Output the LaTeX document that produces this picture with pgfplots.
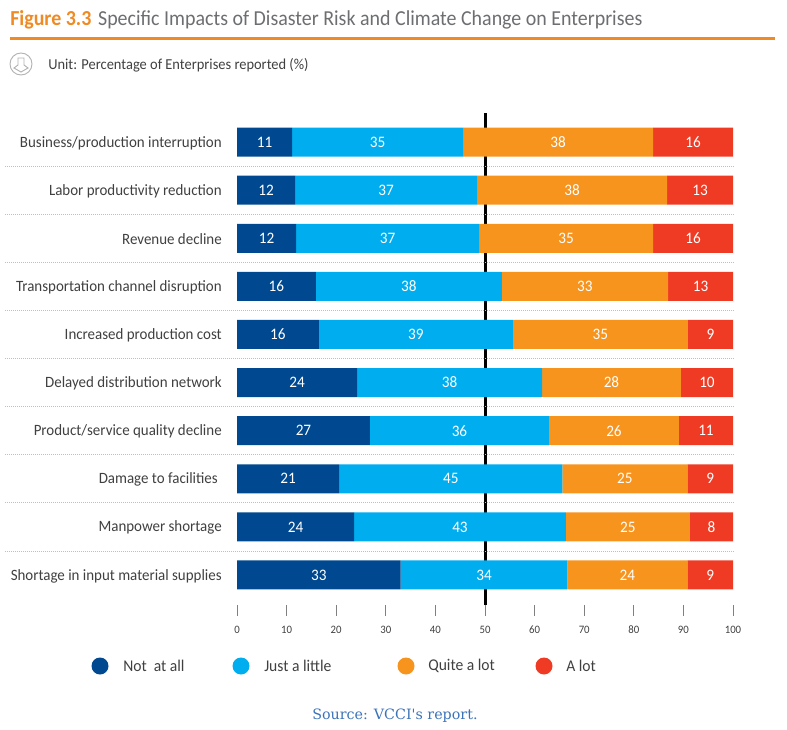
\documentclass[border=0pt]{standalone}
\usepackage{pgfplots}
\usepackage{pgfplotstable}
\usepackage{fontspec}
\pgfplotsset{compat=1.18}
\setmainfont[FakeStretch=0.95]{Carlito}
\newfontfamily\headfont[FakeStretch=0.935]{Carlito}
\newfontfamily\srcfont{DejaVu Serif}

\definecolor{notatall}{HTML}{004990}
\definecolor{little}{HTML}{00AEEF}
\definecolor{quite}{HTML}{F7941E}
\definecolor{alot}{HTML}{EF3B24}
\definecolor{rule}{HTML}{F08A24}
\definecolor{txt}{HTML}{404040}
\definecolor{titlegray}{HTML}{6D6E71}
\definecolor{srcblue}{HTML}{3B73B9}

% boundaries, la..ld are the printed numbers
\pgfplotstableread{
y a    la b    lb c    lc d    ld
0 11.1 11 34.5 35 38.3 38 16.1 16
1 11.7 12 36.7 37 38.3 38 13.3 13
2 11.9 12 36.9 37 35.1 35 16.1 16
3 15.9 16 37.5 38 33.5 33 13.1 13
4 16.5 16 39.1 39 35.3 35 9.1  9
5 24.2 24 37.3 38 28.0 28 10.5 10
6 26.8 27 36.1 36 26.2 26 10.9 11
7 20.6 21 45.0 45 25.2 25 9.2  9
8 23.6 24 42.7 43 25.0 25 8.7  8
9 33.0 33 33.6 34 24.2 24 9.2  9
}\impacts

\pgfplotsset{
  barlabels/.style={
    nodes near coords,
    point meta=explicit symbolic,
    every node near coord/.style={anchor=center, text=white, font=\fontsize{12}{12}\selectfont, inner sep=0pt},
  },
}

\begin{document}
\begin{tikzpicture}
\useasboundingbox (0,0) rectangle (590.25pt,-546.75pt);

% ticks and the 50 line, underneath the bars
\begin{axis}[
    at={(177.75pt,-84.75pt)}, anchor=north west,
    scale only axis, width=372pt, height=369pt,
    xmin=0, xmax=100, ymin=0, ymax=1,
    axis x line*=bottom, hide y axis,
    x axis line style={draw=none},
    xtick={0,10,...,100},
    tick align=outside,
    major tick length=8.25pt,
    tick style={draw=gray, line width=0.7pt},
    xticklabel style={font=\fontsize{8.5}{10}\selectfont, text=txt, yshift=-4pt},
    /pgf/number format/assume math mode=true,
]
\addplot[black, line width=2.25pt, forget plot] coordinates {(50,0) (50,1)};
\end{axis}

\begin{axis}[
    at={(177.75pt,-88.5pt)}, anchor=north west,
    scale only axis, width=372pt, height=360.75pt,
    xbar stacked, bar width=21.75pt,
    xmin=0, xmax=100, ymin=-0.5, ymax=9.5, y dir=reverse,
    clip=false,
    axis lines=none,
    ytick={0,...,9},
    hide x axis,
]
\pgfplotsinvokeforeach{0.5,1.5,...,8.5}{
  \draw[densely dotted, draw=black!25, line width=0.5pt] (axis cs:-46.8,#1) -- (axis cs:100,#1);
}
\addplot[fill=notatall, draw=none, barlabels] table[x=a, y=y, meta=la] {\impacts};
\addplot[fill=little, draw=none, barlabels] table[x=b, y=y, meta=lb] {\impacts};
\addplot[fill=quite, draw=none, barlabels] table[x=c, y=y, meta=lc] {\impacts};
\addplot[fill=alot, draw=none, barlabels] table[x=d, y=y, meta=ld] {\impacts};
\end{axis}

\begin{scope}[x=0.75pt, y=-0.75pt]
% row names
\foreach \r/\name in {
  0/Business\slash production interruption,
  1/Labor productivity reduction,
  2/Revenue decline,
  3/Transportation channel disruption,
  4/Increased production cost,
  5/Delayed distribution network,
  6/Product\slash service quality decline,
  8/Manpower shortage,
  9/Shortage in input material supplies}{
  \node[anchor=east, inner sep=0pt, text=txt, font=\fontsize{11.8}{14}\selectfont]
    at (222, {143+48.1*\r}) {\name};
}
\node[anchor=east, inner sep=0pt, text=txt, font=\fontsize{11.8}{14}\selectfont] at (218, {143+48.1*7}) {Damage to facilities};

% heading
\node[anchor=base west, inner sep=0pt, font=\headfont\fontsize{16}{18}\selectfont] at (10,25)
  {\textcolor{rule}{\textbf{Figure 3.3}}\hspace{5pt}\textcolor{titlegray}{Specific Impacts of Disaster Risk and Climate Change on Enterprises}};
\draw[rule, line width=2.25pt] (10,38) -- (775,38);

% unit line with its icon
\draw[black!30, line width=0.7pt] (21,64) circle (11);
\draw[black!30, line width=0.7pt] (14,68) -- (21,72) -- (28,68) -- (24,65) -- (24,58) -- (18,58) -- (18,65) -- cycle;
\node[anchor=base west, inner sep=0pt, text=txt, font=\fontsize{11.4}{13}\selectfont] at (48,69)
  {Unit: Percentage of Enterprises reported (\%)};

% legend
\foreach \cx/\tx/\col/\lab in {
  100/123/notatall/Not\ \ at all,
  241/264/little/Just a little,
  406/428/quite/Quite a lot,
  544/566/alot/A lot}{
  \fill[\col] (\cx,666) circle (8.5);
  \node[anchor=west, inner sep=0pt, text=txt, font=\fontsize{12.3}{14}\selectfont] at (\tx,666) {\lab};
}

\node[anchor=base west, inner sep=0pt, text=srcblue, font=\srcfont\fontsize{10.7}{13}\selectfont] at (312,719) {Source: VCCI's report.};
\end{scope}
\end{tikzpicture}
\end{document}
